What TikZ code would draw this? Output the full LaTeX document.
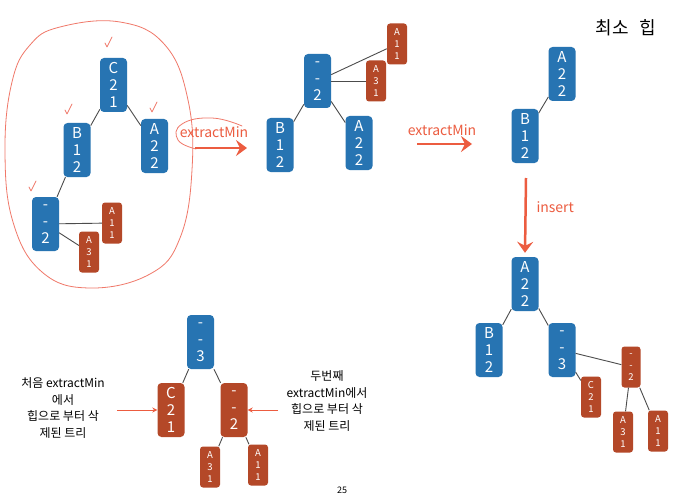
\documentclass[tikz,border=0pt]{standalone}
\usepackage{fontspec}
\setmainfont{Noto Sans CJK KR}
\usetikzlibrary{positioning}
\usetikzlibrary{arrows.meta}
\definecolor{nodeblue}{RGB}{39,116,178}
\definecolor{nodered}{RGB}{180,72,40}
\definecolor{penred}{RGB}{240,120,105}
\definecolor{arrowred}{RGB}{236,92,64}

\begin{document}
\begin{tikzpicture}[x=1pt, y=-1pt,
		bnode/.style={fill=nodeblue, text=white, rounded corners=4pt, align=center,
			minimum width=27pt, minimum height=54pt, inner sep=0pt,
			font=\fontsize{15}{17}\selectfont},
		rnode/.style={bnode, fill=nodered},
		rsmall/.style={bnode, fill=nodered, minimum width=20pt, minimum height=41pt,
			rounded corners=3pt, font=\fontsize{9.5}{12}\selectfont},
		edge/.style={draw=black!70, line width=0.9pt},
		bigarrow/.style={draw=arrowred, line width=2.5pt, -{Stealth[length=11pt,width=16pt,inset=4pt]}},
		thinarrow/.style={draw=arrowred, line width=1pt, -{Stealth[length=5pt,width=5pt]}},
		steplabel/.style={text=arrowred, font=\fontsize{14}{16}\selectfont},
		pen/.style={draw=penred, line width=0.8pt, line cap=round, line join=round},
		note/.style={align=center, font=\fontsize{12}{16.5}\selectfont}
	]
	\useasboundingbox[fill=white] (0,0) rectangle (682,500);
	
	\node[font=\fontsize{18}{20}\selectfont] (title) at (626,28) {최소\hspace{0.6em}힙};
	
	%heap before
	\node[bnode] (c21) at (113.5,85) {C\\2\\1};
	\node[bnode] (b12) at (77,150) {B\\1\\2};
	\node[bnode] (a22) at (154.5,146) {A\\2\\2};
	\node[bnode] (n2) at (45.5,224) {-\\-\\2};
	\node[rsmall] (a11) at (112,223) {A\\1\\1};
	\node[rsmall] (a31) at (89,252) {A\\3\\1};
	\draw[edge] (c21) -- (b12);
	\draw[edge] (c21) -- (a22);
	\draw[edge] (b12) -- (n2);
	\draw[edge] (n2) -- (a11);
	\draw[edge] (n2) -- (a31);
	
	% pen marks
	\draw[pen] plot[smooth cycle, tension=0.7] coordinates {(60,27) (120,22) (165,45) (188,100)
		(192,170) (180,238) (150,274) (90,288) (42,272) (13,222) (5,150) (12,82) (30,45)};
	\foreach \x/\y in {108/43, 68/110, 153/108, 32/187}
		\draw[pen] (\x-3,\y) -- (\x-1,\y+4) -- (\x+4,\y-6);
	\draw[pen] plot[smooth, tension=0.8] coordinates {(242,126) (212,118) (182,124) (178,140) (196,149)};
	
	%first extractMin
	\node[steplabel] (ex1) at (214,132) {extractMin};
	\coordinate (ex1s) at (195,148);
	\coordinate (ex1e) at (247,148);
	\draw[bigarrow] (ex1s) -- (ex1e);
	
	%heap after first extractMin
	\node[bnode] (m2) at (317.5,81) {-\\-\\2};
	\node[bnode] (mb12) at (280,145) {B\\1\\2};
	\node[bnode] (ma22) at (359,143) {A\\2\\2};
	\node[rsmall] (ma11) at (397,44) {A\\1\\1};
	\node[rsmall] (ma31) at (376,81) {A\\3\\1};
	\draw[edge] (m2) -- (mb12);
	\draw[edge] (m2) -- (ma22);
	\draw[edge] (m2) -- (ma11);
	\draw[edge] (m2) -- (ma31);
	
	%second extractMin
	\node[steplabel] (ex2) at (442,130) {extractMin};
	\coordinate (ex2s) at (417,144);
	\coordinate (ex2e) at (472,144);
	\draw[bigarrow] (ex2s) -- (ex2e);
	
	%heap after second extractMin
	\node[bnode] (ra22) at (562,74) {A\\2\\2};
	\node[bnode] (rb12) at (525,136) {B\\1\\2};
	\draw[edge] (rb12) -- (ra22);
	
	%insert
	\coordinate (ins) at (526,178);
	\node[bnode] (fa22) at (525,284) {A\\2\\2};
	\draw[bigarrow] (ins) -- ([yshift=4pt]fa22.north);
	\node[steplabel, anchor=west] (insl) at (533,207) {insert};
	
	%heap after insert
	\node[bnode] (fb12) at (489,350) {B\\1\\2};
	\node[bnode] (f3) at (562,350) {-\\-\\3};
	\node[rsmall, minimum width=19pt] (f2) at (631,367) {-\\-\\2};
	\node[rsmall] (fc21) at (591,397) {C\\2\\1};
	\node[rsmall] (fa31) at (623,432) {A\\3\\1};
	\node[rsmall] (fa11) at (658,431) {A\\1\\1};
	\draw[edge] (fa22) -- (fb12);
	\draw[edge] (fa22) -- (f3);
	\draw[edge] (f3) -- (f2);
	\draw[edge] (f3) -- (fc21);
	\draw[edge] (f2) -- (fa31);
	\draw[edge] (f2) -- (fa11);
	
	%removed trees
	\node[bnode] (d3) at (200.5,342) {-\\-\\3};
	\node[rnode] (dc21) at (171,410) {C\\2\\1};
	\node[rnode] (d2) at (234,410) {-\\-\\2};
	\node[rsmall] (da31) at (210,467) {A\\3\\1};
	\node[rsmall] (da11) at (258,465) {A\\1\\1};
	\draw[edge] (d3) -- (dc21);
	\draw[edge] (d3) -- (d2);
	\draw[edge] (d2) -- (da31);
	\draw[edge] (d2) -- (da11);
	
	% notes
	\node[note] (first) at (63,408) {처음 extractMin\\에서\\힙으로 부터 삭\\제된 트리};
	\node[note] (second) at (327,401) {두번째\\extractMin에서\\힙으로 부터 삭\\제된 트리};
	\coordinate (firsta) at (117,410);
	\coordinate (seconda) at (278,410);
	\draw[thinarrow] (firsta) -- (dc21);
	\draw[thinarrow] (seconda) -- (d2);
	
	\node[font=\fontsize{9}{10}\selectfont] (page) at (342,490) {25};
\end{tikzpicture}
\end{document}
